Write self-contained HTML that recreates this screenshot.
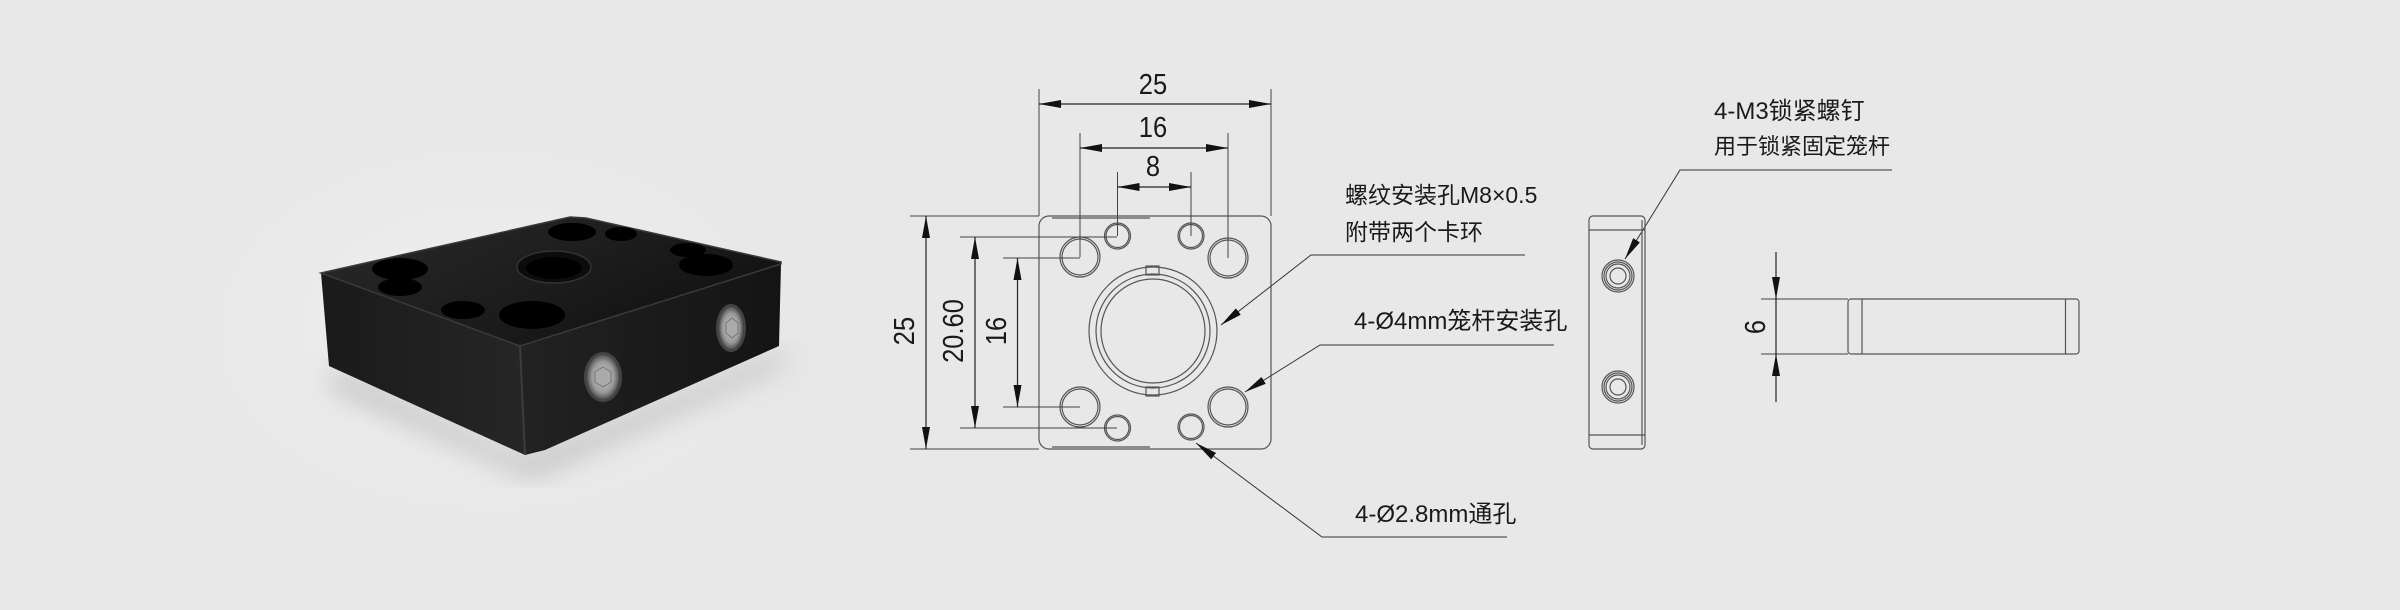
<!DOCTYPE html>
<html><head><meta charset="utf-8"><style>
html,body{margin:0;padding:0;background:#e8e8e8;}
svg{display:block;}
.t{font-family:"Liberation Sans","Noto Sans CJK SC",sans-serif;fill:#1a1a1a;}
</style></head><body>
<svg width="2400" height="610" viewBox="0 0 2400 610" xmlns="http://www.w3.org/2000/svg">
<defs>
<marker id="a" viewBox="0 0 22 8" refX="22" refY="4" markerWidth="22" markerHeight="8" markerUnits="userSpaceOnUse" orient="auto-start-reverse">
<path d="M0,0 L22,4 L0,8 Z" fill="#111"/></marker>
<radialGradient id="bg" cx="0.5" cy="0.5" r="0.5"><stop offset="0" stop-color="#efefef"/><stop offset="1" stop-color="#e8e8e8"/></radialGradient>
<linearGradient id="top" x1="0" y1="0" x2="1" y2="0.6"><stop offset="0" stop-color="#2a2a2a"/><stop offset="0.6" stop-color="#1c1c1c"/><stop offset="1" stop-color="#111"/></linearGradient>
<linearGradient id="lf" x1="0" y1="0" x2="1" y2="0"><stop offset="0" stop-color="#1a1a1a"/><stop offset="1" stop-color="#262626"/></linearGradient>
<linearGradient id="rf" x1="0" y1="0" x2="1" y2="0"><stop offset="0" stop-color="#222"/><stop offset="1" stop-color="#141414"/></linearGradient>
<filter id="blur"><feGaussianBlur stdDeviation="14"/></filter>
<radialGradient id="scr"><stop offset="0" stop-color="#c9c9c9"/><stop offset="0.7" stop-color="#9a9a9a"/><stop offset="1" stop-color="#555"/></radialGradient>
</defs>
<rect width="2400" height="610" fill="#e8e8e8"/>
<ellipse cx="490" cy="330" rx="300" ry="200" fill="url(#bg)"/>
<polygon points="335,370 525,460 790,350 780,365 530,475 330,385" fill="#999" filter="url(#blur)" opacity="0.7"/>
<!-- block -->
<polygon points="321,273 520,346 525,455 329,366" fill="url(#lf)"/>
<polygon points="520,346 781,264 779,346 545,450 525,455" fill="url(#rf)"/>
<polygon points="321,273 570,217 586,218 781,262 781,264 520,346" fill="url(#top)" stroke="#3a3a3a" stroke-width="1.5"/>
<line x1="520" y1="346" x2="525" y2="455" stroke="#3c3c3c" stroke-width="2"/>
<g fill="#000">
<ellipse cx="400" cy="269" rx="28" ry="11"/>
<ellipse cx="400" cy="287" rx="22" ry="9"/>
<ellipse cx="463" cy="310" rx="22" ry="9"/>
<ellipse cx="532" cy="315" rx="33" ry="14"/>
<ellipse cx="554" cy="267" rx="37" ry="16" fill="#0c0c0c" stroke="#333" stroke-width="1.5"/>
<ellipse cx="554" cy="268" rx="28" ry="11"/>
<ellipse cx="572" cy="232" rx="24" ry="9"/>
<ellipse cx="621" cy="234" rx="16" ry="7"/>
<ellipse cx="688" cy="250" rx="18" ry="7"/>
<ellipse cx="706" cy="265" rx="27" ry="11"/>
</g>
<ellipse cx="603" cy="377" rx="19" ry="25" fill="#444"/>
<ellipse cx="603" cy="377" rx="16" ry="22" fill="url(#scr)"/>
<polygon points="603,367 611,372 611,382 603,387 595,382 595,372" fill="#aaa" stroke="#777"/>
<ellipse cx="731" cy="328" rx="15" ry="24" fill="#444"/>
<ellipse cx="731" cy="328" rx="12" ry="21" fill="url(#scr)"/>
<polygon points="732,318 738,323 738,333 732,338 726,333 726,323" fill="#aaa" stroke="#777"/>

<!-- FRONT VIEW -->
<g fill="none" stroke="#555" stroke-width="1.2">
<rect x="1039" y="216" width="232" height="233" rx="10"/>
<line x1="1052" y1="218" x2="1150" y2="218"/>
<line x1="1052" y1="447" x2="1150" y2="447"/>
<circle cx="1080" cy="257" r="20"/><circle cx="1080" cy="257" r="18"/>
<circle cx="1228" cy="258" r="20"/><circle cx="1228" cy="258" r="18"/>
<circle cx="1080" cy="407" r="20"/><circle cx="1080" cy="407" r="18"/>
<circle cx="1228" cy="407" r="20"/><circle cx="1228" cy="407" r="18"/>
<circle cx="1117.5" cy="236" r="13"/><circle cx="1117.5" cy="236" r="11.5"/>
<circle cx="1191" cy="236" r="13"/><circle cx="1191" cy="236" r="11.5"/>
<circle cx="1117.5" cy="428" r="13"/><circle cx="1117.5" cy="428" r="11.5"/>
<circle cx="1191" cy="427" r="13"/><circle cx="1191" cy="427" r="11.5"/>
<circle cx="1153" cy="331" r="64"/>
<circle cx="1153" cy="331" r="57"/>
<circle cx="1153" cy="331" r="52"/>
<rect x="1146" y="266" width="13" height="9"/>
<rect x="1146" y="387" width="13" height="9"/>
</g>
<g stroke="#444" stroke-width="1" fill="none">
<line x1="1039" y1="89" x2="1039" y2="216"/><line x1="1271" y1="89" x2="1271" y2="216"/>
<line x1="1080" y1="133" x2="1080" y2="257"/><line x1="1228" y1="133" x2="1228" y2="258"/>
<line x1="1117.5" y1="172" x2="1117.5" y2="236"/><line x1="1191" y1="172" x2="1191" y2="236"/>
<line x1="910" y1="216" x2="1039" y2="216"/><line x1="910" y1="449" x2="1039" y2="449"/>
<line x1="960" y1="237" x2="1117" y2="237"/><line x1="960" y1="428" x2="1117" y2="428"/>
<line x1="1003" y1="258" x2="1080" y2="258"/><line x1="1003" y1="407" x2="1080" y2="407"/>
</g>
<g stroke="#222" stroke-width="1.2" fill="none">
<line x1="1039" y1="104" x2="1271" y2="104" marker-start="url(#a)" marker-end="url(#a)"/>
<line x1="1080" y1="148" x2="1228" y2="148" marker-start="url(#a)" marker-end="url(#a)"/>
<line x1="1117.5" y1="187" x2="1191" y2="187" marker-start="url(#a)" marker-end="url(#a)"/>
<line x1="926" y1="216" x2="926" y2="449" marker-start="url(#a)" marker-end="url(#a)"/>
<line x1="975" y1="237" x2="975" y2="428" marker-start="url(#a)" marker-end="url(#a)"/>
<line x1="1017.5" y1="258" x2="1017.5" y2="407" marker-start="url(#a)" marker-end="url(#a)"/>
</g>
<g class="t" font-size="29" text-anchor="middle">
<text transform="translate(1153,94) scale(0.88,1)">25</text>
<text transform="translate(1153,137) scale(0.88,1)">16</text>
<text transform="translate(1153,176) scale(0.88,1)">8</text>
<text transform="translate(914,331) rotate(-90) scale(0.88,1)">25</text>
<text transform="translate(963,331) rotate(-90) scale(0.88,1)">20.60</text>
<text transform="translate(1006,331) rotate(-90) scale(0.88,1)">16</text>
</g>
<g stroke="#333" stroke-width="1" fill="none">
<polyline points="1525,255 1311,255 1221,325" marker-end="url(#a)"/>
<polyline points="1554,345 1320,345 1245,392" marker-end="url(#a)"/>
<polyline points="1507,537 1322,537 1196,443" marker-end="url(#a)"/>
<polyline points="1892,170 1680,170 1625,259" marker-end="url(#a)"/>
</g>
<g class="t" font-size="23">
<text x="1345" y="203">螺纹安装孔M8×0.5</text>
<text x="1345" y="240">附带两个卡环</text>
<text x="1354" y="329" font-size="24">4-Ø4mm笼杆安装孔</text>
<text x="1355" y="522" font-size="24">4-Ø2.8mm通孔</text>
<text x="1714" y="119" font-size="24">4-M3锁紧螺钉</text>
<text x="1714" y="154" font-size="22">用于锁紧固定笼杆</text>
</g>
<g fill="none" stroke="#555" stroke-width="1.2">
<rect x="1589" y="216" width="56" height="233" rx="4"/>
<line x1="1589" y1="230" x2="1645" y2="230"/>
<line x1="1589" y1="435" x2="1645" y2="435"/>
<line x1="1642" y1="220" x2="1642" y2="445"/>
<circle cx="1618" cy="276" r="16"/><circle cx="1618" cy="276" r="14"/><circle cx="1618" cy="276" r="12"/><circle cx="1618" cy="276" r="8"/>
<circle cx="1618" cy="387" r="16"/><circle cx="1618" cy="387" r="14"/><circle cx="1618" cy="387" r="12"/><circle cx="1618" cy="387" r="8"/>
<rect x="1848" y="299" width="231" height="55" rx="3"/>
<line x1="1862" y1="299" x2="1862" y2="354"/>
<line x1="2065.5" y1="299" x2="2065.5" y2="354"/>
<line x1="1761" y1="299" x2="1848" y2="299" stroke="#444" stroke-width="1"/>
<line x1="1761" y1="354" x2="1848" y2="354" stroke="#444" stroke-width="1"/>
</g>
<g stroke="#222" stroke-width="1.2" fill="none">
<line x1="1776" y1="252" x2="1776" y2="299" marker-end="url(#a)"/>
<line x1="1776" y1="402" x2="1776" y2="354" marker-end="url(#a)"/>
<line x1="1776" y1="299" x2="1776" y2="354"/>
</g>
<text class="t" font-size="29" text-anchor="middle" transform="translate(1765,327) rotate(-90) scale(0.88,1)">6</text>
</svg>
</body></html>
